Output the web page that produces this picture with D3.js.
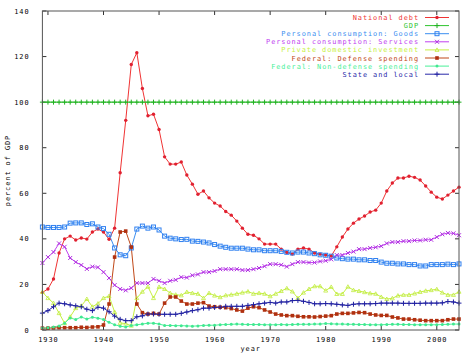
<!DOCTYPE html>
<html><head><meta charset="utf-8">
<script src="https://cdn.jsdelivr.net/npm/d3@7"></script>
<style>body{margin:0;background:#fff}svg{display:block}text{font-family:"DejaVu Sans Mono","Liberation Mono",monospace;font-size:6.9px;letter-spacing:0.95px}</style>
</head><body>
<script>
const years = [1929,
1930,1931,1932,1933,1934,1935,1936,1937,1938,1939,
1940,1941,1942,1943,1944,1945,1946,1947,1948,1949,
1950,1951,1952,1953,1954,1955,1956,1957,1958,1959,
1960,1961,1962,1963,1964,1965,1966,1967,1968,1969,
1970,1971,1972,1973,1974,1975,1976,1977,1978,1979,
1980,1981,1982,1983,1984,1985,1986,1987,1988,1989,
1990,1991,1992,1993,1994,1995,1996,1997,1998,1999,
2000,2001,2002,2003,2004];
const nationalDebt = [16.5,
18,22.4,33.8,40,41.2,39.5,40.4,39.9,43,44.3,
43,39.8,44.7,69,92,116.5,121.7,106,94,94.7,
88,76,72.8,72.8,73.7,68,64,59.6,61,58,
55.7,54.4,52,50.4,47.8,44.7,42,41.6,40,37.7,
37.7,37.7,35.5,34,33.3,35.5,36,35.5,33.8,33.3,
32.9,32.5,36.5,40.8,44.3,46.9,48.7,50,51.8,52.6,
55.7,61,64.5,66.7,66.7,67.5,67,65.8,63.2,60.5,
58.3,57.5,59.2,61,62.7];
const gdp = [100,
100,100,100,100,100,100,100,100,100,100,
100,100,100,100,100,100,100,100,100,100,
100,100,100,100,100,100,100,100,100,100,
100,100,100,100,100,100,100,100,100,100,
100,100,100,100,100,100,100,100,100,100,
100,100,100,100,100,100,100,100,100,100,
100,100,100,100,100,100,100,100,100,100,
100,100,100,100,100];
const goods = [45.2,
45,45,45,45.2,46.9,47,47,46.3,46.6,45.2,
44.5,42,36,33,32.6,36,44.3,45.6,44.7,45.2,
43.9,41.2,40.3,40,39.7,39.8,39,38.9,38.6,38.2,
37.5,36.8,36.3,35.9,35.9,35.9,35.5,35.2,35.2,34.8,
34.8,34.8,34.5,34.1,33.8,34.2,34.2,33.8,33.5,33,
32.8,32.4,31.6,31.3,31.1,31.1,30.8,30.8,30.5,30.5,
29.8,29.3,29.3,29,29,28.7,28.7,28.1,28.1,28.7,
28.7,28.7,28.9,28.7,29];
const services = [29.4,
32,34.2,38,36.5,31.6,29.8,28.5,26.8,27.8,27.5,
25.4,22.8,19.7,18,17.4,18.4,20.6,20.6,20.6,22.4,
21.6,20.6,21.6,22,23.2,23,24,24.4,25.4,25.4,
25.9,26.7,26.7,26.7,26.7,26.3,26.3,26.7,27.2,28,
28.9,28.9,28.6,27.8,28.9,29.8,29.8,29.6,29.6,30.1,
30.4,31,32.9,32.9,33.8,34.4,35.5,35.5,36,36.3,
36.8,38,38.6,38.6,39,39,39.3,39.3,39.6,39.6,
40.8,42,42.6,42.4,41.6];
const privateInv = [16.7,
14,11.8,7.4,3,5.8,9.6,10.6,13.6,10.2,11.6,
14,14.9,7.9,3.1,2.8,1.9,14,16.8,19,14,
18.9,18,16.2,15.5,15.2,16.7,16.2,15.9,14,16.2,
15.1,14.4,15.2,15.5,15.9,16.4,16.9,15.9,16.2,15.9,
14.8,15.9,17.1,18.3,16.9,14,16.4,18,19.2,19.2,
17.3,18.9,15.8,15.8,19,17.5,17.1,16.6,16.1,15.9,
14.5,13.6,13.9,15.1,15.4,15.4,16,16.7,17.2,17.5,
17.9,16.4,15.4,15.4,16.8];
const defense = [0.8,
0.8,0.9,1,1,1,1,1.2,1.1,1.3,1.4,
2.2,11.4,32,43,43.4,36.4,11.4,7.6,7,7.3,
7,11.8,14.5,14.5,12.7,11.4,11.4,11.8,12,10.5,
10.2,10,9.8,9.4,8.8,8.3,9.6,10.2,9.8,8.8,
7.9,7,6.6,6.3,6.3,6,5.8,5.8,5.7,5.9,
6.1,6.3,7,7.3,7.3,7.5,7.7,7.6,7,6.6,
6.4,6.4,5.7,5.3,4.8,4.8,4.5,4.3,4.1,4.1,
4.1,4.1,4.5,4.8,4.8];
const nonDefense = [0.9,
1,1.3,1.8,3,5.3,4.6,5.7,4.8,5.6,5.2,
4.6,3.4,2.3,1.7,1.3,2,2.3,2.6,3,3,
2.6,2,2,1.9,1.9,1.8,1.7,1.8,2,2.1,
2.1,2.3,2.4,2.5,2.6,2.5,2.4,2.4,2.4,2.3,
2.3,2.3,2.4,2.3,2.4,2.5,2.5,2.5,2.6,2.6,
2.8,2.7,2.6,2.6,2.5,2.5,2.4,2.4,2.3,2.3,
2.3,2.4,2.5,2.5,2.4,2.4,2.3,2.3,2.3,2.3,
2.3,2.4,2.5,2.6,2.6];
const stateLocal = [7.4,
8.5,10.2,11.8,11.5,11,10.6,10.2,9.1,8.5,10,
9.6,8,6.1,4.7,4.1,4.1,5.8,6.2,7,7,
6.9,6.9,6.9,6.9,7.3,7.9,8.5,8.9,9.6,9.6,
9.9,10,10.4,10.4,10.4,10.4,10.8,11.1,11.5,11.8,
12.1,11.8,12.3,12.3,12.9,13,12.6,12.1,11.5,11.5,
11.6,11.5,11.3,11,10.8,11.3,11.5,11.5,11.5,11.6,
11.8,11.8,11.8,11.8,11.7,11.7,11.7,11.7,11.8,11.8,
11.8,11.9,12.5,12.3,11.8];
const seriesNames = ["National debt","GDP","Personal consumption: Goods","Personal consumption: Services","Private domestic investment","Federal: Defense spending","Federal: Non-defense spending","State and local"];
const seriesValues = [nationalDebt,gdp,goods,services,privateInv,defense,nonDefense,stateLocal];
const xTicks = [1930,1940,1950,1960,1970,1980,1990,2000];
const yTicks = [0,20,40,60,80,100,120,140];

const colors = ["#f03434","#2ec42e","#3b8ef0","#c040f0","#c6f040","#c04818","#48f098","#2828a8"];
const pointColors = ["#e02030","#20b020","#3080f0","#b030e0","#c0ec40","#b03010","#40e890","#2020a0"];
const markers = ["dot","plus","square","cross","tri","fsquare","circle","plus"];

const W=474,H=355;
const L=42.4,R=459,T=11,B=330;
const x=d3.scaleLinear().domain([1929,2004]).range([L,R]);
const y=d3.scaleLinear().domain([0,140]).range([B,T]);
const svg=d3.select("body").append("svg").attr("width",W).attr("height",H);

function drawMarker(g,type,cx,cy,c){
  if(type==="plus"){g.append("path").attr("d",`M${cx-2.5},${cy}H${cx+2.5}M${cx},${cy-2.5}V${cy+2.5}`).attr("stroke",c).attr("stroke-width",1).attr("fill","none");}
  else if(type==="cross"){g.append("path").attr("d",`M${cx-2},${cy-2}L${cx+2},${cy+2}M${cx-2},${cy+2}L${cx+2},${cy-2}`).attr("stroke",c).attr("stroke-width",1).attr("fill","none");}
  else if(type==="square"){g.append("rect").attr("x",cx-2).attr("y",cy-2).attr("width",4).attr("height",4).attr("stroke",c).attr("stroke-width",1).attr("fill","none");}
  else if(type==="fsquare"){g.append("rect").attr("x",cx-1.8).attr("y",cy-1.8).attr("width",3.6).attr("height",3.6).attr("fill",c);}
  else if(type==="dot"){g.append("circle").attr("cx",cx).attr("cy",cy).attr("r",1.7).attr("fill",c);}
  else if(type==="circle"){g.append("circle").attr("cx",cx).attr("cy",cy).attr("r",1.5).attr("fill",c);}
  else if(type==="tri"){g.append("path").attr("d",`M${cx},${cy-2}L${cx+2},${cy+1.5}L${cx-2},${cy+1.5}Z`).attr("stroke",c).attr("stroke-width",0.8).attr("fill","none");}
}

// axes ticks
const axG=svg.append("g");
yTicks.forEach(v=>{
  axG.append("line").attr("x1",L).attr("x2",L+4).attr("y1",y(v)).attr("y2",y(v)).attr("stroke","#333");
  axG.append("line").attr("x1",R-4).attr("x2",R).attr("y1",y(v)).attr("y2",y(v)).attr("stroke","#333");
  axG.append("text").attr("x",29.5).attr("y",y(v)+2.5).attr("text-anchor","end").text(v);
});
xTicks.forEach(v=>{
  axG.append("line").attr("x1",x(v)).attr("x2",x(v)).attr("y1",B).attr("y2",B-4).attr("stroke","#333");
  axG.append("line").attr("x1",x(v)).attr("x2",x(v)).attr("y1",T).attr("y2",T+4).attr("stroke","#333");
  axG.append("text").attr("x",x(v)+0.5).attr("y",B+11.5).attr("text-anchor","middle").text(v);
});
axG.append("text").attr("x",(L+R)/2).attr("y",350.5).attr("text-anchor","middle").text("year");
axG.append("text").attr("transform",`translate(10,${(T+B)/2}) rotate(-90)`).attr("text-anchor","middle").text("percent of GDP");

// series
const line=d3.line().x((d,i)=>x(years[i])).y(d=>y(d));
const sg=svg.append("g");
seriesValues.forEach((vals,k)=>{
  sg.append("path").attr("d",line(vals)).attr("fill","none").attr("stroke",colors[k]).attr("stroke-width",1);
});
seriesValues.forEach((vals,k)=>{
  const g=sg.append("g");
  vals.forEach((v,i)=>drawMarker(g,markers[k],x(years[i]),y(v),pointColors[k]));
});

// border
svg.append("rect").attr("x",L).attr("y",T).attr("width",R-L).attr("height",B-T).attr("fill","none").attr("stroke","#555").attr("stroke-width",1);

// legend
const lg=svg.append("g");
seriesNames.forEach((n,k)=>{
  const ly=17.5+k*8.1;
  lg.append("text").attr("x",419).attr("y",ly+2.5).attr("text-anchor","end").attr("fill",colors[k]).text(n);
  lg.append("line").attr("x1",425).attr("x2",449).attr("y1",ly).attr("y2",ly).attr("stroke",colors[k]);
  drawMarker(lg,markers[k],437,ly,pointColors[k]);
});
</script>
</body></html>
